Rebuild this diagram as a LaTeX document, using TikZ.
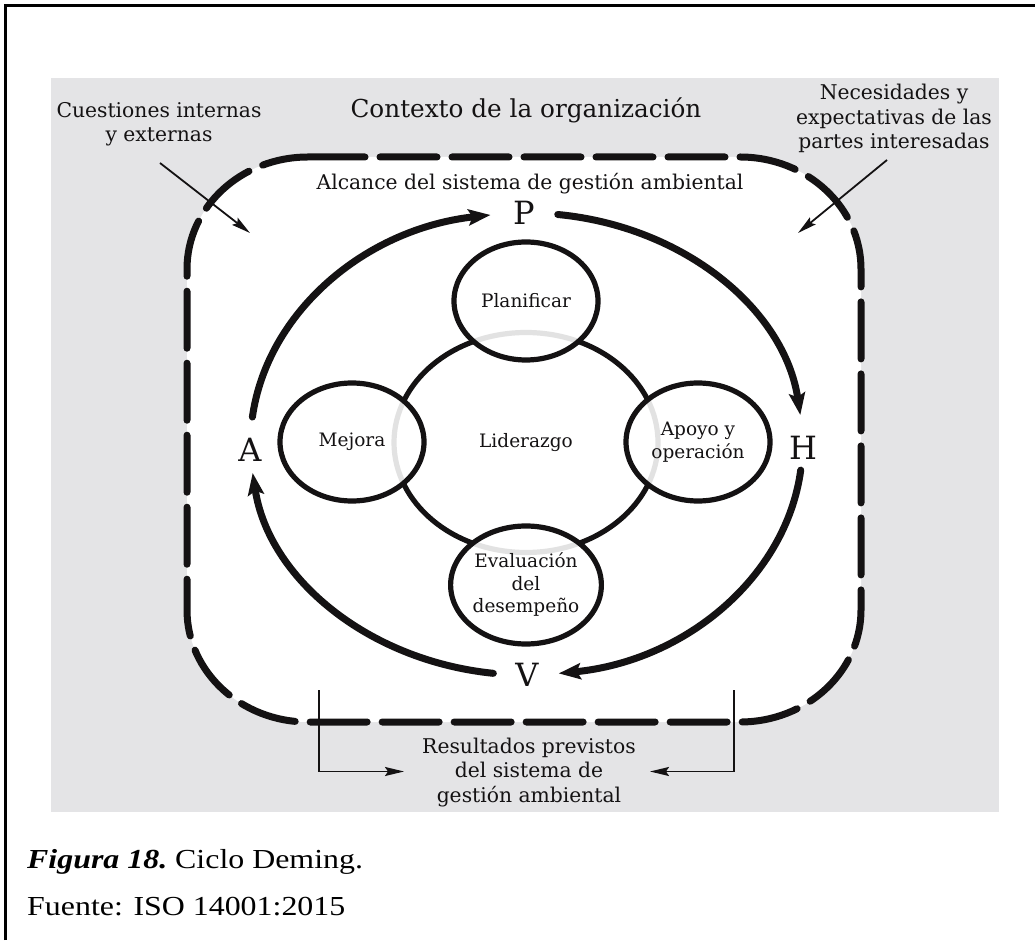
\documentclass[tikz,border=0pt]{standalone}
\usepackage{graphicx}
\usepackage{fontspec}
\setmainfont{DejaVu Serif}
\newfontfamily\capfont{Liberation Serif}
\usetikzlibrary{arrows.meta,shapes.geometric,calc}

\definecolor{panel}{RGB}{228,228,230}
\definecolor{ink}{RGB}{20,18,19}
\newcommand\setfs[2]{\fontsize{#1pt}{#2pt}\selectfont}
\newcommand\widetext[1]{\scalebox{1.16}[1]{#1}}

\tikzset{
  lbl/.style={inner sep=0pt, text=ink, align=center, font=\setfs{20.3}{24.5}},
  stage/.style={ellipse, draw=ink, line width=5.2pt, fill=white, fill opacity=0.88,
    text opacity=1, text=ink, minimum width=144pt, minimum height=118pt,
    inner sep=0pt, align=center, font=\setfs{18.5}{22.5}},
  pdca/.style={inner sep=0pt, text=ink, font=\setfs{32}{32}},
  cyc/.style={draw=ink, line width=7pt, line cap=round,
    -{Stealth[length=22pt, width=16pt, inset=4pt]}},
  thinarr/.style={draw=ink, line width=1.8pt,
    -{Stealth[length=19pt, width=9pt, inset=3pt]}},
  scopeline/.style={draw=ink, line width=7pt, line cap=round,
    dash pattern=on 57pt off 15pt},
  figcap/.style={inner sep=0pt, anchor=base west, text=black,
    font=\capfont\setfs{27.5}{33}}
}

\begin{document}
\begin{tikzpicture}[x=1pt, y=1pt]
\useasboundingbox (0,0) rectangle (1035,940);

% page frame, top and left edges
\draw[line width=2.8pt, black] (5.8,0) -- (5.8,934.7) -- (1035,934.7);

% context panel
\fill[panel] (51,128) rectangle (999,862);

% scope of the environmental management system (dashed rounded box)
\path[fill=white] (308,783) -- (740,783)
  arc[start angle=90, end angle=0, x radius=121, y radius=112] -- (861,330)
  arc[start angle=0, end angle=-90, x radius=121, y radius=112] -- (308,218)
  arc[start angle=270, end angle=180, x radius=121, y radius=112] -- (187,671)
  arc[start angle=180, end angle=90, x radius=121, y radius=112] -- cycle;
\draw[scopeline] (308,783) -- (740,783)
  arc[start angle=90, end angle=0, x radius=121, y radius=112] -- (861,330)
  arc[start angle=0, end angle=-90, x radius=121, y radius=112] -- (308,218)
  arc[start angle=270, end angle=180, x radius=121, y radius=112] -- (187,671)
  arc[start angle=180, end angle=90, x radius=121, y radius=112] -- cycle;

% headings and side labels
\node[lbl, anchor=base, font=\setfs{24.7}{28}] (ctx) at (526,822) {Contexto de la organización};
\node[lbl, anchor=base] (alc) at (530,750) {Alcance del sistema de gestión ambiental};
\node[lbl] (cue) at (159,815.6) {Cuestiones internas\\y externas};
\node[lbl] (nec) at (894,821.3) {Necesidades y\\expectativas de las\\partes interesadas};
\node[lbl] (res) at (529,167.7) {Resultados previstos\\del sistema de\\gestión ambiental};

% leadership and the four stages
\node[ellipse, draw=ink, line width=5.2pt, minimum width=264pt, minimum height=220pt,
  inner sep=0pt, text=ink, font=\setfs{18.5}{22.5}] (lid) at (526,497.5) {Liderazgo};
\node[stage] (plan) at (526,639) {Planificar};
\node[stage] (apo) at (698,498) {Apoyo y\\operación};
\node[stage] (eva) at (526,355) {Evaluación\\del\\desempeño};
\node[stage] (mej) at (352,498) {Mejora};

% PDCA letters
\node[pdca] (P) at (524,727) {P};
\node[pdca] (H) at (803,492) {H};
\node[pdca] (V) at (527,265) {V};
\node[pdca] (A) at (250,490) {A};

% PDCA cycle arcs
\coordinate (o) at (526.5,496);
\draw[cyc] ($(o)+(173.3:276 and 231)$) arc[start angle=173.3, end angle=97.5, x radius=276, y radius=231];
\draw[cyc] ($(o)+(83.5:276 and 231)$) arc[start angle=83.5, end angle=7.2, x radius=276, y radius=231];
\draw[cyc] ($(o)+(-6.5:276 and 231)$) arc[start angle=-6.5, end angle=-83.3, x radius=276, y radius=231];
\draw[cyc] ($(o)+(-96.9:276 and 231)$) arc[start angle=-96.9, end angle=-172.8, x radius=276, y radius=231];

% inputs
\coordinate (cueA) at (160,777);
\coordinate (cueB) at (250,707);
\coordinate (necA) at (887,780);
\coordinate (necB) at (798,707);
\draw[thinarr] (cueA) -- (cueB);
\draw[thinarr] (necA) -- (necB);

% outputs
\coordinate (outL) at (319,250);
\coordinate (outR) at (734,250);
\coordinate (inL) at (404,168.5);
\coordinate (inR) at (650,168.5);
\draw[thinarr] (outL) |- (inL);
\draw[thinarr] (outR) |- (inR);

% caption
\node[figcap] (fig) at (27,72) {\widetext{\bfseries\itshape Figura 18.}\widetext{ Ciclo Deming.}};
\node[figcap] (src) at (27,25) {\widetext{Fuente: ISO 14001:2015}};
\end{tikzpicture}
\end{document}
